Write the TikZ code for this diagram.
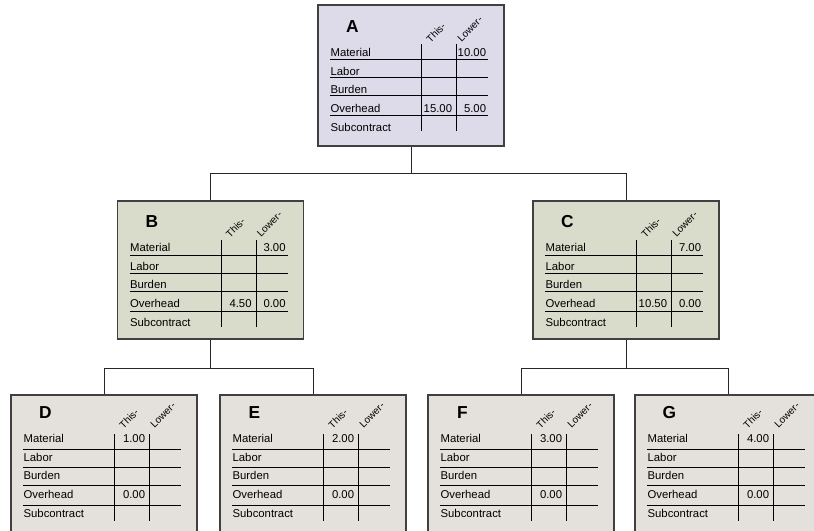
\documentclass[tikz,border=0pt]{standalone}
\usepackage{fontspec}
\setmainfont{Liberation Sans}
\definecolor{topfill}{RGB}{221,219,233}
\definecolor{midfill}{RGB}{217,219,203}
\definecolor{lowfill}{RGB}{228,225,220}
\definecolor{edge}{RGB}{64,64,64}

\newcommand\costtable[7]{%
  \begin{scope}[shift={(#1.north west)}]
    \node[boxid] (#1-id) at (35,21+#7) {#2};
    \node[colhead] (#1-this) at (113,38+#7) {This-};
    \node[colhead] (#1-lower) at (144,37+#7) {Lower-};
    \foreach \yy in {55.5,73.5,91,111}
      \draw[gridline] (13,\yy) -- (171,\yy);
    \draw[gridline] (104.5,40) -- (104.5,127);
    \draw[gridline] (139.5,40) -- (139.5,127);
    \foreach \lab/\yy [count=\i] in {Material/51.5,Labor/70,Burden/88,Overhead/107.5,Subcontract/126.5}
      \node[rowlabel] (#1-row\i) at (13,\yy+#7) {\lab};
    \node[amount] (#1-mt) at (135,51.5+#7) {#3};
    \node[amount] (#1-ml) at (169,51.5+#7) {#4};
    \node[amount] (#1-ot) at (135,107.5+#7) {#5};
    \node[amount] (#1-ol) at (169,107.5+#7) {#6};
  \end{scope}}

\begin{document}
\begin{tikzpicture}[x=0.75pt,y=-0.75pt,
  costbox/.style={draw=edge,line width=1pt,inner sep=0pt,
    minimum width=139.5pt,minimum height=103.5pt},
  boxid/.style={font=\bfseries\fontsize{13}{13}\selectfont,inner sep=0pt},
  colhead/.style={font=\fontsize{7.5}{8}\selectfont,rotate=45,anchor=base west,inner sep=0pt},
  rowlabel/.style={font=\fontsize{8.5}{9}\selectfont,anchor=base west,inner sep=0pt},
  amount/.style={font=\fontsize{8.5}{9}\selectfont,anchor=base east,inner sep=0pt},
  gridline/.style={line width=0.6pt,black},
  link/.style={line width=0.7pt,black!85}]
  \clip (0,0) rectangle (814,531);

  \node[costbox,fill=topfill,minimum height=105.75pt] (A) at (411,75.5) {};
  \node[costbox,fill=midfill] (B) at (210.5,270) {};
  \node[costbox,fill=midfill] (C) at (626,270) {};
  \node[costbox,fill=lowfill] (D) at (104,464) {};
  \node[costbox,fill=lowfill] (E) at (313,464) {};
  \node[costbox,fill=lowfill] (F) at (521,464) {};
  \node[costbox,fill=lowfill] (G) at (728,464) {};

  \draw[link] (A.south) -- ++(0,27) -| (B.north);
  \draw[link] (A.south) -- ++(0,27) -| (C.north);
  \draw[link] (B.south) -- ++(0,29) -| (D.north);
  \draw[link] (B.south) -- ++(0,29) -| (E.north);
  \draw[link] (C.south) -- ++(0,29) -| (F.north);
  \draw[link] (C.south) -- ++(0,29) -| (G.north);

  \costtable{A}{A}{}{10.00}{15.00}{5.00}{1}
  \costtable{B}{B}{}{3.00}{4.50}{0.00}{0}
  \costtable{C}{C}{}{7.00}{10.50}{0.00}{0}
  \costtable{D}{D}{1.00}{}{0.00}{}{-3}
  \costtable{E}{E}{2.00}{}{0.00}{}{-3}
  \costtable{F}{F}{3.00}{}{0.00}{}{-3}
  \costtable{G}{G}{4.00}{}{0.00}{}{-3}
\end{tikzpicture}
\end{document}
